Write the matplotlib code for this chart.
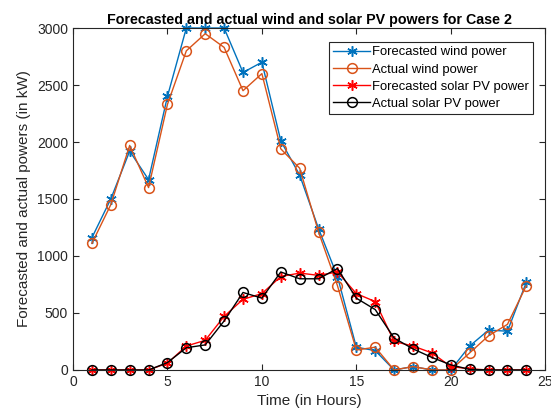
import matplotlib
matplotlib.use("Agg")
import matplotlib.pyplot as plt

plt.rcParams['font.family'] = ['Liberation Sans', 'DejaVu Sans']

hours = list(range(1, 25))
forecast_wind = [1160, 1500, 1920, 1670, 2400, 3000, 3000, 3000, 2610, 2700, 2010, 1710,
                 1240, 820, 200, 170, 0, 30, 0, 0, 210, 350, 340, 770]
actual_wind = [1110, 1450, 1970, 1600, 2330, 2800, 2950, 2830, 2450, 2600, 1940, 1770,
               1210, 740, 175, 200, 0, 30, 0, 0, 150, 300, 400, 740]
forecast_pv = [0, 0, 0, 0, 60, 210, 260, 470, 620, 670, 820, 850,
               830, 860, 670, 600, 250, 210, 150, 30, 10, 0, 0, 0]
actual_pv = [0, 0, 0, 0, 65, 195, 220, 430, 680, 630, 860, 800,
             800, 890, 630, 530, 280, 185, 110, 45, 5, 0, 0, 0]

x_ticks = [0, 5, 10, 15, 20, 25]
y_ticks = [0, 500, 1000, 1500, 2000, 2500, 3000]

fig = plt.figure(figsize=(5.51, 4.12), dpi=100)
ax = fig.add_axes([0.1325, 0.102, 0.857, 0.830])

ast = (6, 2, 0)
ms = 7.5
ax.plot(hours, forecast_wind, '-', marker=ast, color='#0072BD', lw=1, ms=ms, mew=1.1,
        label='Forecasted wind power', clip_on=False)
ax.plot(hours, actual_wind, '-o', color='#D95319', lw=1, ms=7, mew=1.1, mfc='none',
        label='Actual wind power', clip_on=False)
ax.plot(hours, forecast_pv, '-', marker=ast, color='red', lw=1, ms=ms, mew=1.1,
        label='Forecasted solar PV power', clip_on=False)
ax.plot(hours, actual_pv, '-o', color='black', lw=1, ms=7, mew=1.1, mfc='none',
        label='Actual solar PV power', clip_on=False)

ax.set_xlim(0, 25)
ax.set_ylim(0, 3000)
ax.set_xticks(x_ticks)
ax.set_yticks(y_ticks)
ax.tick_params(direction='in', top=True, right=True, labelsize=10, colors='#262626', length=4)
for s in ax.spines.values():
    s.set_color('#262626')
    s.set_linewidth(0.8)

ax.set_xlabel('Time (in Hours)', fontsize=11, color='#262626')
ax.set_ylabel('Forecasted and actual powers (in kW)', fontsize=11, color='#262626')
ax.set_title('Forecasted and actual wind and solar PV powers for Case 2', fontsize=10.3,
             fontweight='bold', pad=3)

leg = ax.legend(loc='upper right', bbox_to_anchor=(0.975, 0.96), borderaxespad=0,
                fontsize=9.4, frameon=True,
                fancybox=False, edgecolor='#262626', framealpha=1, handlelength=2.8,
                borderpad=0.35, labelspacing=0.38, handletextpad=0.15)
leg.get_frame().set_linewidth(0.8)

fig.savefig('out.png', dpi=100)
